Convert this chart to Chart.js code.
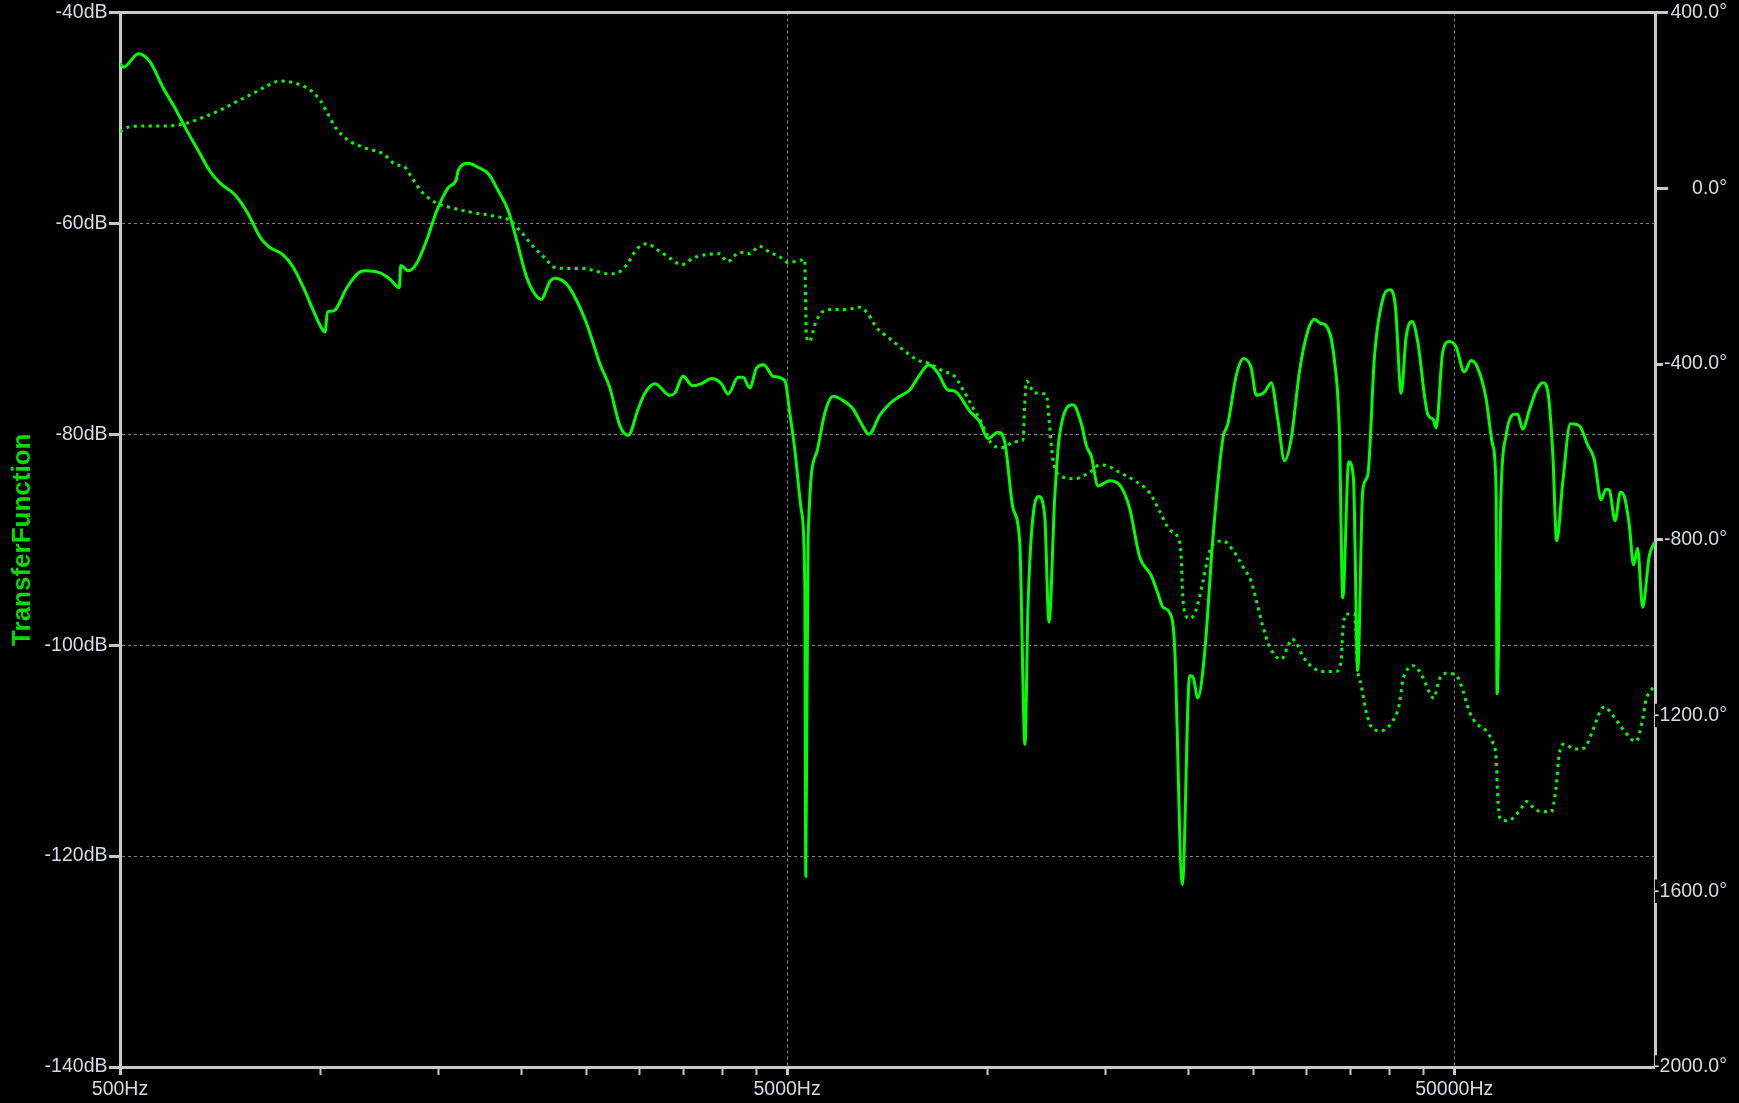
<!DOCTYPE html>
<html>
<head>
<meta charset="utf-8">
<title>TransferFunction</title>
<script src="https://cdn.jsdelivr.net/npm/chart.js@4.4.1/dist/chart.umd.min.js"></script>
<style>
  html, body { margin: 0; padding: 0; background: #000; }
  canvas { display: block; }
</style>
</head>
<body>
<canvas id="bode" width="1739" height="1103"></canvas>
<script>
// magnitude (solid, left axis, dB)
const magFreq = [500, 506, 533, 555, 581, 605, 630, 659, 683, 707,
  744, 775, 811, 835, 879, 910, 942, 975, 1004, 1015,
  1023, 1044, 1094, 1138, 1165, 1227, 1270, 1311, 1318, 1353,
  1392, 1441, 1492, 1553, 1595, 1607, 1664, 1722, 1783, 1845,
  1910, 1966, 2035, 2094, 2143, 2181, 2205, 2244, 2323, 2390,
  2503, 2620, 2712, 2808, 2889, 2990, 3060, 3168, 3336, 3394,
  3492, 3608, 3722, 3852, 3987, 4079, 4223, 4296, 4396, 4500,
  4614, 4764, 4961, 5047, 5134, 5255, 5315, 5333, 5376, 5533,
  5694, 5860, 6031, 6278, 6462, 6633, 6883, 7125, 7375, 7634,
  7857, 8159, 8417, 8713, 8916, 9390, 9720, 10003, 10355, 10596,
  10905, 11160, 11367, 11485, 11917, 12166, 12347, 12594, 12811, 13415,
  13805, 14049, 14293, 14620, 15221, 15756, 16309, 16882, 17577, 17983,
  18296, 18723, 19049, 19564, 20061, 20288, 20641, 21126, 21739, 22503,
  22895, 23568, 24166, 24815, 25248, 25986, 26591, 27204, 27838, 28492,
  29319, 30168, 30870, 31590, 32141, 33073, 33649, 34039, 34744, 35316,
  35841, 36466, 37102, 37975, 39076, 40084, 40821, 41639, 42354, 43241,
  44086, 45636, 46538, 46979, 48060, 49179, 50322, 51791, 52996, 54219,
  55816, 57102, 57779, 57980, 58787, 59816, 61554, 62252, 63337, 64823,
  66336, 67864, 69050, 70254, 71231, 72720, 74674, 77034, 79245, 81116,
  83006, 84457, 85414, 87125, 88729, 89946, 91514, 92876, 94174, 95814,
  98070, 100000];
const magDb = [-44.8, -45.2, -43.9, -44.7, -47.2, -49.1, -51.2, -53.4, -55.1, -56.2,
  -57.3, -58.9, -61.3, -62.2, -63.0, -64.2, -66.1, -68.3, -70.0, -70.3,
  -68.4, -68.3, -66.1, -64.7, -64.5, -64.7, -65.3, -66.1, -64.0, -64.5,
  -63.8, -61.6, -58.8, -56.6, -55.9, -55.0, -54.3, -54.7, -55.3, -56.9,
  -58.8, -61.6, -65.1, -66.7, -67.2, -66.2, -65.5, -65.2, -65.6, -66.7,
  -69.5, -73.3, -75.6, -79.2, -80.1, -77.6, -76.1, -75.2, -76.3, -76.1,
  -74.5, -75.4, -75.2, -74.7, -75.2, -76.2, -74.6, -74.6, -75.6, -73.7,
  -73.4, -74.5, -74.9, -78.0, -81.4, -87.3, -94.1, -121.9, -89.8, -81.8,
  -78.0, -76.4, -76.7, -77.6, -79.0, -80.0, -78.2, -77.1, -76.4, -75.8,
  -74.6, -73.4, -74.2, -75.8, -75.9, -77.8, -78.8, -80.4, -79.8, -80.7,
  -87.0, -90.2, -109.4, -96.2, -85.9, -87.7, -97.8, -86.0, -80.0, -77.2,
  -79.0, -81.1, -82.1, -84.9, -84.4, -84.8, -87.0, -91.6, -93.4, -95.1,
  -96.4, -96.9, -100.1, -122.7, -102.9, -103.0, -105.0, -100.8, -89.9, -80.4,
  -79.0, -74.4, -72.8, -73.7, -76.3, -76.0, -75.1, -78.6, -82.5, -80.4,
  -74.0, -70.2, -69.1, -69.5, -69.7, -73.0, -79.9, -95.5, -82.6, -84.2,
  -102.4, -85.3, -83.9, -72.6, -67.2, -66.3, -67.9, -76.1, -70.8, -69.3,
  -71.2, -78.1, -78.6, -79.4, -72.2, -71.2, -71.7, -74.1, -73.0, -73.7,
  -76.6, -81.0, -85.3, -104.6, -85.3, -80.1, -78.1, -78.1, -79.5, -77.7,
  -75.9, -75.1, -75.9, -81.7, -90.1, -84.6, -79.0, -79.2, -81.0, -82.4,
  -86.2, -85.2, -85.3, -88.2, -85.5, -85.9, -88.6, -92.4, -90.8, -96.4,
  -91.5, -90.2];

// phase (dotted, right axis, degrees)
const phaseFreq = [500, 518, 549, 581, 622, 667, 707, 748, 792, 830,
  869, 910, 964, 997, 1021, 1050, 1094, 1158, 1241, 1299,
  1329, 1376, 1424, 1492, 1580, 1693, 1814, 1921, 1989, 2083,
  2181, 2230, 2336, 2474, 2591, 2696, 2808, 2889, 2975, 3085,
  3186, 3336, 3473, 3615, 3786, 3964, 4065, 4247, 4396, 4541,
  4711, 4876, 5017, 5165, 5315, 5328, 5346, 5395, 5533, 5694,
  5860, 6137, 6424, 6610, 6804, 7125, 7460, 7813, 8180, 8564,
  8916, 9175, 9497, 9720, 9946, 10177, 10535, 10969, 11289, 11354,
  11422, 11752, 12237, 12347, 12515, 12811, 13489, 14207, 14705, 15134,
  15756, 16688, 17477, 18091, 18723, 19269, 19497, 19564, 19784, 20061,
  20527, 21004, 21370, 21739, 22503, 23291, 24111, 24815, 25248, 25827,
  26432, 27524, 28159, 28551, 28990, 29648, 30691, 31767, 33264, 33844,
  34039, 34441, 35437, 35841, 36266, 36897, 37746, 38860, 40226, 41389,
  41867, 42354, 43440, 44856, 45909, 46597, 47512, 48627, 50322, 51199,
  52694, 53924, 55816, 57102, 57779, 58100, 58584, 60142, 62609, 64212,
  66336, 69869, 71052, 71875, 73128, 75697, 78356, 80631, 83006, 83946,
  86896, 89412, 93633, 95814, 96944, 98620, 100000];
const phaseDeg = [128.7, 140.1, 141.7, 141.7, 146.2, 161.5, 178.1, 197.0, 216.1, 232.7,
  244.1, 240.2, 223.6, 200.9, 174.2, 140.1, 111.4, 93.2, 78.0, 52.9,
  50.6, 18.8, -11.5, -34.2, -45.6, -55.6, -63.1, -73.8, -96.6, -133.0,
  -163.3, -179.2, -182.4, -182.4, -189.5, -194.7, -189.5, -169.2, -138.7, -126.4,
  -138.7, -159.0, -174.2, -159.0, -151.0, -149.0, -167.2, -145.8, -149.0, -131.7,
  -145.8, -156.0, -169.2, -166.2, -162.1, -245.4, -336.9, -349.0, -301.2, -278.0,
  -275.9, -275.9, -270.7, -286.0, -316.5, -342.0, -367.2, -389.7, -399.7, -416.1,
  -428.2, -458.7, -499.4, -524.7, -558.4, -585.2, -590.2, -576.8, -573.4, -491.0,
  -438.9, -465.8, -469.8, -524.7, -617.3, -652.6, -661.0, -646.7, -629.8, -632.4,
  -646.7, -667.9, -693.1, -735.2, -777.3, -795.8, -844.7, -912.1, -971.0, -979.4,
  -958.3, -895.2, -840.4, -811.0, -802.6, -823.5, -861.5, -895.2, -937.3, -996.3,
  -1042.5, -1072.0, -1042.5, -1025.6, -1034.3, -1064.8, -1090.9, -1099.6, -1099.6, -1077.7,
  -1008.1, -969.0, -969.0, -1095.3, -1130.1, -1191.1, -1230.2, -1234.6, -1217.3, -1173.6,
  -1121.4, -1099.6, -1086.6, -1112.8, -1147.6, -1160.6, -1117.1, -1103.9, -1108.3, -1130.1,
  -1191.1, -1217.3, -1234.6, -1260.7, -1295.5, -1382.7, -1434.8, -1439.4, -1417.5, -1395.7,
  -1415.7, -1419.4, -1365.2, -1286.9, -1265.0, -1276.4, -1273.9, -1234.6, -1186.8, -1180.6,
  -1204.0, -1230.2, -1258.9, -1208.4, -1164.9, -1143.0, -1132.8];

// axes
const freqTicks = [500, 1000, 1500, 2000, 2500, 3000, 3500, 4000, 4500,
  5000, 10000, 15000, 20000, 25000, 30000, 35000, 40000, 45000, 50000];
const freqLabels = [500, 5000, 50000];
const dbRange = [-140, -40];
const dbStep = 20;
const degRange = [-2000, 400];
const degStep = 400;

const GREEN = '#00ff00';
const AXIS = '#c8c8c8';
const GRID = '#808080';
const TEXT = '#d4dce4';
const FONT = { family: '"Liberation Sans", Arial, sans-serif', size: 19.5 };
const rightTick = 13;

// top edge of the plot frame (no scale sits there)
const topFrame = {
    id: 'topFrame',
    beforeDatasetsDraw(chart) {
        const { ctx, chartArea: a } = chart;
        ctx.save();
        ctx.strokeStyle = AXIS;
        ctx.lineWidth = 3;
        ctx.beginPath();
        ctx.moveTo(a.left - 11, a.top);
        ctx.lineTo(a.right + rightTick, a.top);
        ctx.stroke();
        ctx.restore();
    }
};

new Chart(document.getElementById('bode'), {
    type: 'line',
    data: {
        datasets: [{
            label: 'magnitude',
            data: magFreq.map((f, i) => ({ x: f, y: magDb[i] })),
            yAxisID: 'y',
            borderColor: GREEN,
            borderWidth: 3,
            pointRadius: 0,
            cubicInterpolationMode: 'monotone'
        }, {
            label: 'phase',
            data: phaseFreq.map((f, i) => ({ x: f, y: phaseDeg[i] })),
            yAxisID: 'y1',
            borderColor: GREEN,
            borderWidth: 3,
            borderDash: [3, 4.5],
            borderCapStyle: 'butt',
            pointRadius: 0,
            cubicInterpolationMode: 'monotone'
        }]
    },
    options: {
        responsive: false,
        animation: false,
        devicePixelRatio: 1,
        layout: { padding: { top: 12.5, left: 0, right: 12, bottom: 0 } },
        plugins: {
            legend: { display: false },
            tooltip: { enabled: false }
        },
        scales: {
            x: {
                type: 'logarithmic',
                position: 'bottom',
                min: 500,
                max: 100000,
                afterBuildTicks: (s) => { s.ticks = freqTicks.map(v => ({ value: v })); },
                afterFit: (s) => { s.height = 36; s.paddingLeft = 0; s.paddingRight = 0; },
                ticks: {
                    autoSkip: false,
                    maxRotation: 0,
                    minRotation: 0,
                    padding: 3,
                    color: TEXT,
                    font: FONT,
                    callback: (v) => freqLabels.includes(v) ? v + 'Hz' : ''
                },
                grid: {
                    color: (c) => (c.tick && c.tick.value !== 500 && freqLabels.includes(c.tick.value)) ? GRID : 'rgba(0,0,0,0)',
                    lineWidth: 1,
                    tickLength: 8,
                    tickColor: AXIS,
                    tickWidth: (c) => (c.tick && freqLabels.includes(c.tick.value)) ? 3 : 2
                },
                border: { color: AXIS, width: 3, dash: [3, 3] }
            },
            y: {
                type: 'linear',
                position: 'left',
                min: dbRange[0],
                max: dbRange[1],
                afterFit: (s) => { s.width = 120; s.paddingTop = 0; s.paddingBottom = 0; },
                ticks: {
                    stepSize: dbStep,
                    padding: 1.5,
                    color: TEXT,
                    font: FONT,
                    callback: (v) => v + 'dB'
                },
                grid: {
                    color: (c) => (c.tick && (c.tick.value === dbRange[0] || c.tick.value === dbRange[1])) ? 'rgba(0,0,0,0)' : GRID,
                    lineWidth: 1,
                    tickLength: 11,
                    tickColor: AXIS,
                    tickWidth: 3
                },
                border: { color: AXIS, width: 3, dash: [3, 3] },
                title: {
                    display: true,
                    text: 'TransferFunction',
                    color: '#00dd00',
                    font: { family: '"Liberation Sans", Arial, sans-serif', size: 26, weight: 'bold' },
                    padding: { top: 7, bottom: 0 }
                }
            },
            y1: {
                type: 'linear',
                position: 'right',
                min: degRange[0],
                max: degRange[1],
                afterFit: (s) => { s.width = 72; s.paddingTop = 0; s.paddingBottom = 0; },
                ticks: {
                    stepSize: degStep,
                    crossAlign: 'far',
                    color: TEXT,
                    font: FONT,
                    z: 1,
                    showLabelBackdrop: true,
                    backdropColor: '#000',
                    backdropPadding: { left: 1, right: 0, top: 0, bottom: 0 },
                    callback: (v) => v.toFixed(1) + '°'
                },
                grid: {
                    drawOnChartArea: false,
                    tickLength: rightTick,
                    tickColor: AXIS,
                    tickWidth: 3
                },
                border: { color: AXIS, width: 3 }
            }
        }
    },
    plugins: [topFrame]
});
</script>
</body>
</html>
